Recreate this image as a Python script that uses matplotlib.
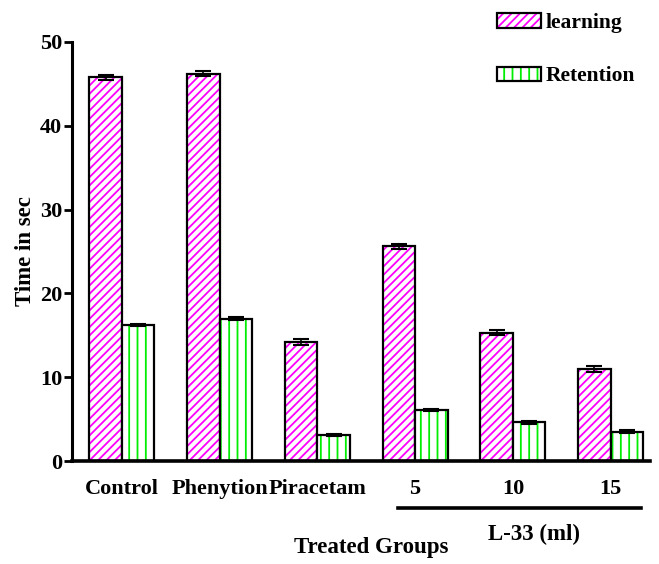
import numpy as np
import matplotlib.pyplot as plt
from matplotlib.patches import Patch
from matplotlib.legend_handler import HandlerTuple
import matplotlib.transforms as mtransforms

plt.rcParams['font.family'] = 'Liberation Serif'
plt.rcParams['font.weight'] = 'bold'
plt.rcParams['hatch.linewidth'] = 1.3

# Mean time (sec) per group, with SEM
groups = ['Control', 'Phenytion', 'Piracetam', '5', '10', '15']
learning = [45.8, 46.2, 14.2, 25.6, 15.3, 11.0]
learning_err = [0.3, 0.3, 0.35, 0.25, 0.3, 0.35]
retention = [16.2, 17.0, 3.1, 6.1, 4.6, 3.5]
retention_err = [0.15, 0.2, 0.15, 0.15, 0.15, 0.2]

fig = plt.figure(figsize=(6.59, 5.64), dpi=100)
ax = fig.add_axes([0.109, 0.1826, 0.877, 0.743])

x = np.arange(len(groups))
w = 0.333

# hatch layer first, then black outline on top
ax.bar(x - w / 2, learning, w, color='white', edgecolor='#ff00ff', hatch='////', linewidth=0)
ax.bar(x - w / 2, learning, w, fill=False, edgecolor='black', linewidth=1.6)
ax.bar(x + w / 2, retention, w, color='white', edgecolor='#00ee00', hatch='||', linewidth=0)
ax.bar(x + w / 2, retention, w, fill=False, edgecolor='black', linewidth=1.6)

ax.errorbar(x - w / 2, learning, yerr=learning_err, fmt='none', ecolor='black',
            elinewidth=1.2, capsize=6, capthick=1.5)
ax.errorbar(x + w / 2, retention, yerr=retention_err, fmt='none', ecolor='black',
            elinewidth=1.2, capsize=6, capthick=1.5)

ax.set_xlim(-0.511, 5.40)
ax.set_ylim(0, 50)
ax.set_yticks([0, 10, 20, 30, 40, 50])
ax.set_xticks(x)
ax.set_xticklabels(groups)

for side in ['top', 'right']:
    ax.spines[side].set_visible(False)
ax.spines['left'].set_linewidth(2.2)
ax.spines['bottom'].set_linewidth(2.6)
ax.tick_params(axis='y', length=6, width=2, pad=1, labelsize=16)
ax.tick_params(axis='x', length=0, pad=13, labelsize=16)

ax.set_ylabel('Time in sec', fontsize=16.5, fontweight='bold', labelpad=3)

# bracket line under the L-33 doses
trans = mtransforms.blended_transform_factory(ax.transData, ax.transAxes)
ax.plot([2.83, 5.31], [-0.112, -0.112], color='black', linewidth=2.6,
        transform=trans, clip_on=False)
ax.text(4.22, -0.176, 'L-33 (ml)', transform=trans, ha='center', va='center',
        fontsize=16.5, fontweight='bold')
ax.text(2.55, -0.207, 'Treated Groups', transform=trans, ha='center', va='center',
        fontsize=16.5, fontweight='bold')

h_learn = (Patch(facecolor='white', edgecolor='#ff00ff', hatch='////', linewidth=0),
           Patch(fill=False, edgecolor='black', linewidth=1.6))
h_ret = (Patch(facecolor='white', edgecolor='#00ee00', hatch='||', linewidth=0),
         Patch(fill=False, edgecolor='black', linewidth=1.6))
ax.legend([h_learn, h_ret], ['learning', 'Retention'],
          handler_map={tuple: HandlerTuple(ndivide=1, pad=0)},
          loc='upper left', bbox_to_anchor=(0.735, 1.069), frameon=False,
          fontsize=15.5, handlelength=2.07, handleheight=0.63, handletextpad=0.2,
          labelspacing=1.55, borderaxespad=0, borderpad=0)

fig.savefig('out.png', dpi=100)
